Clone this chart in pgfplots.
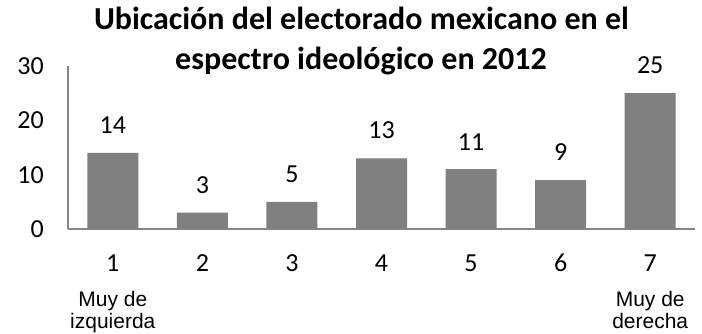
\documentclass[border=0pt]{standalone}
\usepackage{fontspec}
\setmainfont{Carlito}
\newfontfamily\arialfont{Liberation Sans}
\usepackage{pgfplots}
\pgfplotsset{compat=1.18}
\definecolor{barcol}{HTML}{808080}
\definecolor{axcol}{HTML}{868686}
\begin{document}
\begin{tikzpicture}[x=1bp,y=1bp]
\useasboundingbox (0,0) rectangle (702,333);
\begin{axis}[
  at={(68bp,104bp)}, anchor=south west,
  scale only axis, width=627bp, height=163bp,
  xmin=0.5, xmax=7.5, ymin=0, ymax=30,
  axis x line*=bottom, axis y line*=left,
  axis line style={draw=axcol, line width=1.2bp},
  major tick length=0pt,
  ytick={0,10,20,30},
  xtick={1,2,3,4,5,6,7},
  xticklabels={1,2,3,4,5,6,7},
  /pgf/number format/assume math mode=true,
  tick label style={font=\fontsize{26bp}{30bp}\selectfont, inner sep=0pt},
  yticklabel style={anchor=east, xshift=-24bp},
  xticklabel style={anchor=base, yshift=-42bp},
  ybar, bar width=51bp,
  nodes near coords,
  nodes near coords style={font=\fontsize{26bp}{30bp}\selectfont, inner sep=0pt, anchor=south, yshift=19bp},
  clip=false,
]
\addplot[fill=barcol, draw=none] coordinates {(1,14) (2,3) (3,5) (4,13) (5,11) (6,9) (7,25)};
\node[anchor=base, font=\arialfont\fontsize{21bp}{22bp}\selectfont, inner sep=0pt] at (axis cs:1,0) [yshift=-77bp] {Muy de};
\node[anchor=base, font=\arialfont\fontsize{21bp}{22bp}\selectfont, inner sep=0pt] at (axis cs:1,0) [yshift=-99bp] {izquierda};
\node[anchor=base, font=\arialfont\fontsize{21bp}{22bp}\selectfont, inner sep=0pt] at (axis cs:7,0) [yshift=-77bp] {Muy de};
\node[anchor=base, font=\arialfont\fontsize{21bp}{22bp}\selectfont, inner sep=0pt] at (axis cs:7,0) [yshift=-99bp] {derecha};
\end{axis}
\node[anchor=base, font=\bfseries\fontsize{32bp}{38bp}\selectfont, inner sep=0pt] at (361.5,303.7) {Ubicación del electorado mexicano en el};
\node[anchor=base, font=\bfseries\fontsize{32bp}{38bp}\selectfont, inner sep=0pt] at (361,264) {espectro ideológico en 2012};
\end{tikzpicture}
\end{document}
